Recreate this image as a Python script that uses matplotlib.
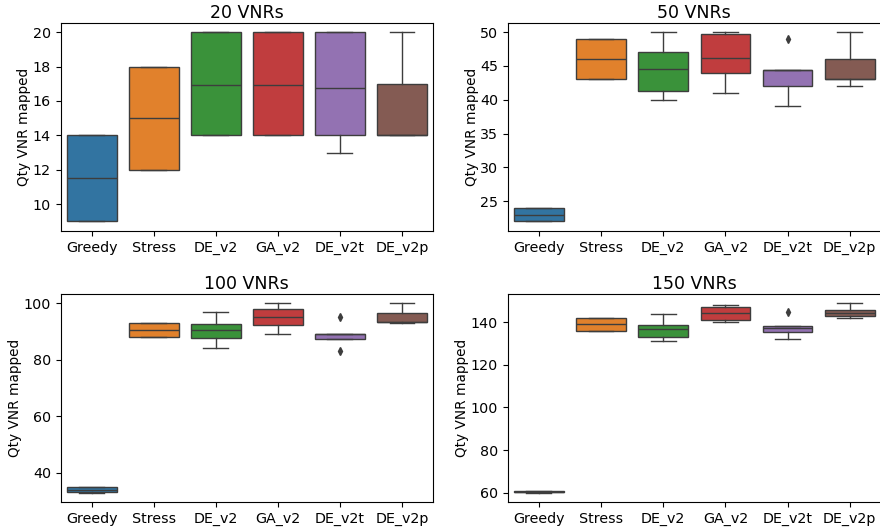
import matplotlib
matplotlib.use("Agg")
import matplotlib.pyplot as plt
import seaborn as sns

methods = ["Greedy", "Stress", "DE_v2", "GA_v2", "DE_v2t", "DE_v2p"]
titles = ["20 VNRs", "50 VNRs", "100 VNRs", "150 VNRs"]

# box statistics, one list per panel
whislo_20 = [9, 12, 14, 14, 13, 14]
q1_20 = [9, 12, 14, 14, 14, 14]
med_20 = [11.5, 15, 16.9, 16.9, 16.75, 14]
q3_20 = [14, 18, 20, 20, 20, 17]
whishi_20 = [14, 18, 20, 20, 20, 20]
fliers_20 = [[], [], [], [], [], []]

whislo_50 = [22, 43, 40, 41, 39, 42]
q1_50 = [22, 43, 41.25, 44, 42, 43]
med_50 = [23, 46, 44.6, 46.2, 44.4, 43]
q3_50 = [24, 49, 47, 49.75, 44.4, 46]
whishi_50 = [24, 49, 50, 50, 44.4, 50]
fliers_50 = [[], [], [], [], [49], []]

whislo_100 = [33, 88, 84, 89, 87.25, 93]
q1_100 = [33.25, 88, 87.5, 92.25, 87.25, 93.25]
med_100 = [34, 90.5, 90.5, 95, 89, 93.25]
q3_100 = [35, 93, 92.75, 98, 89, 96.5]
whishi_100 = [35, 93, 97, 100, 89, 100]
fliers_100 = [[], [], [], [], [95, 83], []]

whislo_150 = [60, 136, 131, 140, 132, 142]
q1_150 = [60.25, 136, 133, 141, 135.5, 143]
med_150 = [60.5, 139, 137, 144.2, 137.5, 144.2]
q3_150 = [61, 142, 138.75, 147, 138, 145.5]
whishi_150 = [61, 142, 144, 148, 138, 149]
fliers_150 = [[], [], [], [], [145], []]

panels = [
    (whislo_20, q1_20, med_20, q3_20, whishi_20, fliers_20),
    (whislo_50, q1_50, med_50, q3_50, whishi_50, fliers_50),
    (whislo_100, q1_100, med_100, q3_100, whishi_100, fliers_100),
    (whislo_150, q1_150, med_150, q3_150, whishi_150, fliers_150),
]

colors = sns.color_palette("tab10", 6, desat=0.75)
gray = "#3d3d3d"

fig = plt.figure(figsize=(8.8, 5.27), dpi=100)
rects = [
    [0.069, 0.562, 0.423, 0.395],
    [0.577, 0.562, 0.424, 0.395],
    [0.069, 0.047, 0.423, 0.396],
    [0.577, 0.047, 0.424, 0.396],
]

for k, (lo, q1, med, q3, hi, fl) in enumerate(panels):
    ax = fig.add_axes(rects[k])
    stats = []
    for i in range(len(methods)):
        stats.append({
            "whislo": lo[i], "q1": q1[i], "med": med[i], "q3": q3[i],
            "whishi": hi[i], "fliers": fl[i], "label": methods[i],
        })
    bp = ax.bxp(
        stats, positions=list(range(len(methods))), widths=0.8,
        patch_artist=True,
        boxprops=dict(edgecolor=gray, linewidth=1.0),
        whiskerprops=dict(color=gray, linewidth=1.0),
        capprops=dict(color=gray, linewidth=1.0),
        medianprops=dict(color=gray, linewidth=1.0),
        flierprops=dict(marker="d", markerfacecolor=gray, markeredgecolor=gray,
                        markersize=4, linestyle="none"),
    )
    for patch, c in zip(bp["boxes"], colors):
        patch.set_facecolor(c)
    ax.set_xlim(-0.5, len(methods) - 0.5)
    ax.set_title(titles[k], fontsize=12.5, pad=3)
    ax.set_ylabel("Qty VNR mapped", fontsize=9.8, labelpad=1)
    ax.tick_params(labelsize=10.3)

fig.savefig("out.png", dpi=100)
